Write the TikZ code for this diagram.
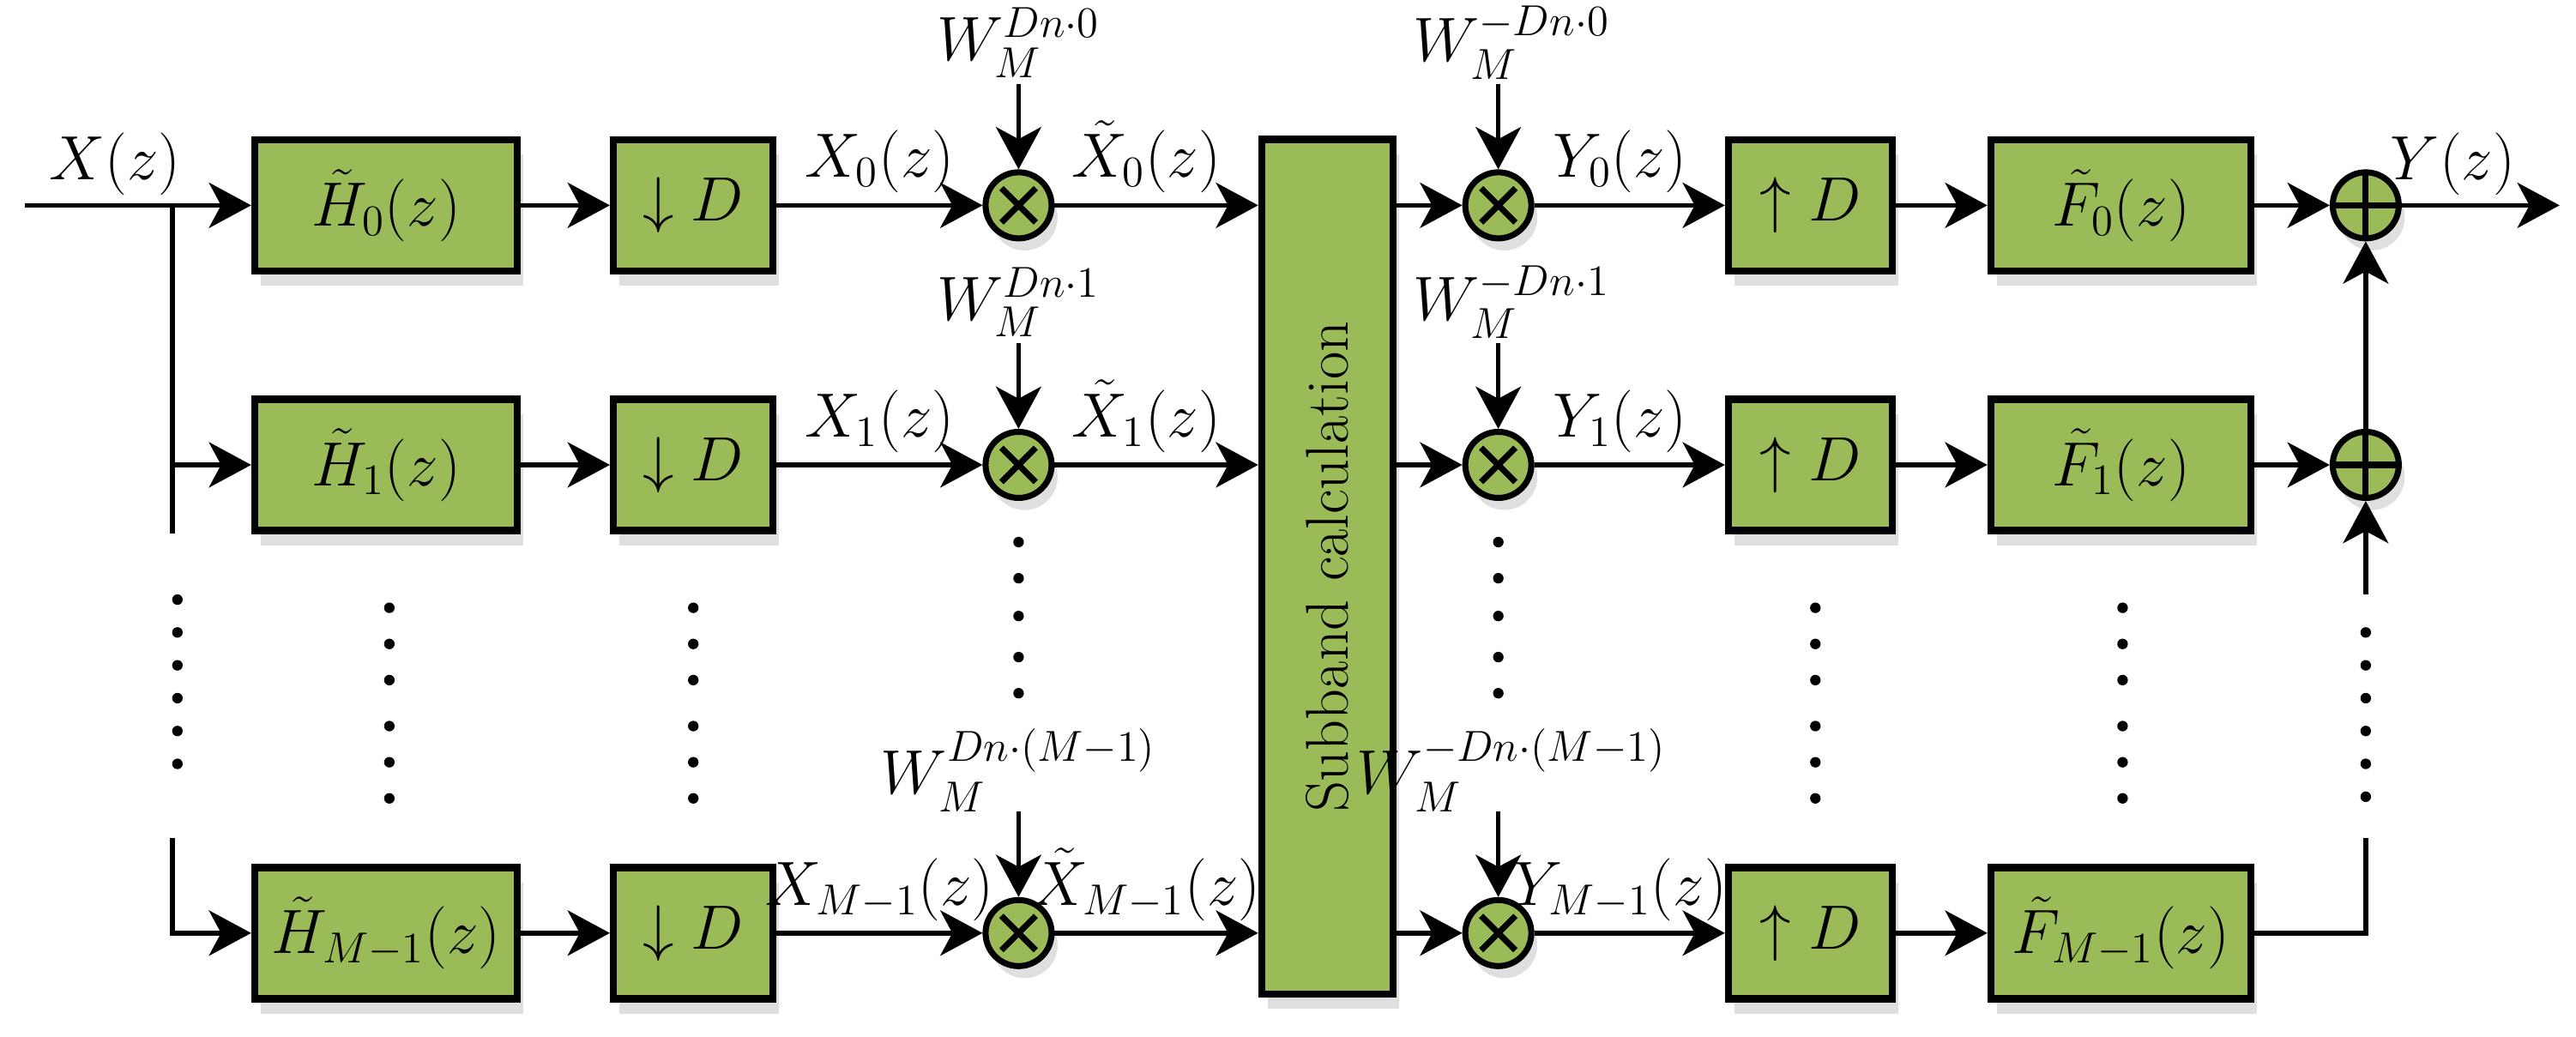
\documentclass[tikz,border=0pt]{standalone}
\usepackage{amsmath}
\usepackage{tikz}
\usetikzlibrary{arrows.meta}
\usetikzlibrary{positioning}
\usetikzlibrary{shadows}
\definecolor{bgreen}{RGB}{155,187,89}
\tikzset{->/.style = {-{Stealth[length=14pt,width=15pt,inset=4pt]}}}
\tikzset{sig/.style = {line width=1.6pt}}
\tikzset{blk/.style = {draw, line width=2.4pt, fill=bgreen, minimum height=1.53cm, inner sep=1pt,
                       drop shadow={shadow xshift=2pt, shadow yshift=-5pt, opacity=0.25}}}
\tikzset{op/.style = {draw, line width=2pt, circle, fill=bgreen, minimum size=0.77cm, inner sep=0,
                      drop shadow={shadow xshift=2pt, shadow yshift=-4pt, opacity=0.25}}}
\tikzset{mul/.style = {op, path picture={\draw[line width=2pt]
                       ([shift={(-0.2cm,-0.2cm)}]path picture bounding box.center) -- ([shift={(0.2cm,0.2cm)}]path picture bounding box.center)
                       ([shift={(-0.2cm,0.2cm)}]path picture bounding box.center) -- ([shift={(0.2cm,-0.2cm)}]path picture bounding box.center);}}}
\tikzset{add/.style = {op, path picture={\draw[line width=2pt]
                       ([shift={(-0.4cm,0cm)}]path picture bounding box.center) -- ([shift={(0.4cm,0cm)}]path picture bounding box.center)
                       ([shift={(0cm,0.4cm)}]path picture bounding box.center) -- ([shift={(0cm,-0.4cm)}]path picture bounding box.center);}}}
\tikzset{dot/.style = {fill, circle, inner sep=0, minimum size=3.5pt}}
\begin{document}
\begin{tikzpicture}[x=0.01915cm, y=-0.01915cm, font=\fontsize{20}{24}\selectfont]
  \useasboundingbox (0, 0) rectangle (1568, 631);

  \node [blk, minimum width=1.53cm, minimum height=9.96cm] (sub) at (808, 345)
        {\rotatebox{90}{Subband calculation}};

  \foreach \r/\y/\s/\e in {0/125/0/0, 1/283/1/1, M/568/{M-1}/(M-1)} {
    \node [blk, minimum width=3.06cm] (h\r) at (235, \y) {$\tilde{H}_{\s}(z)$};
    \node [blk, minimum width=1.86cm] (d\r) at (422, \y) {$\downarrow D$};
    \node [mul] (m\r) at (620, \y) {};
    \node [mul] (n\r) at (912, \y) {};
    \node [blk, minimum width=1.91cm] (u\r) at (1102, \y) {$\uparrow D$};
    \node [blk, minimum width=3.03cm] (f\r) at (1291, \y) {$\tilde{F}_{\s}(z)$};
    \node (wa\r) at (620, \y-99) {$W_M^{Dn\cdot \e}$};
    \node (wb\r) at (920, \y-99) {$W_M^{-Dn\cdot \e}$};
    \coordinate (ta\r) at (620, \y-74);
    \coordinate (tb\r) at (912, \y-74);
    \draw [sig, ->] (h\r) -- (d\r);
    \draw [sig, ->] (d\r) -- (m\r) node [pos=0.5, above] {$X_{\s}(z)$};
    \draw [sig, ->] (m\r) -- (m\r -| sub.west) node [pos=0.45, above] {$\tilde{X}_{\s}(z)$};
    \draw [sig, ->] (sub.east |- n\r) -- (n\r);
    \draw [sig, ->] (n\r) -- (u\r) node [pos=0.45, above] {$Y_{\s}(z)$};
    \draw [sig, ->] (u\r) -- (f\r);
    \draw [sig, ->] (ta\r) -- (m\r);
    \draw [sig, ->] (tb\r) -- (n\r);
  }

  % input side
  \coordinate (in) at (15, 125);
  \coordinate (br) at (105, 125);
  \node (xl) at (70, 100) {$X(z)$};
  \draw [sig, ->] (in) -- (h0);
  \draw [sig] (br) -- (105, 325);
  \draw [sig, ->] (105, 283) -- (h1);
  \draw [sig, ->] (105, 510) |- (hM);

  % output side
  \node [add] (s0) at (1440, 125) {};
  \node [add] (s1) at (1440, 283) {};
  \coordinate (out) at (1558, 125);
  \node (yl) at (1493, 100) {$Y(z)$};
  \draw [sig, ->] (f0) -- (s0);
  \draw [sig, ->] (f1) -- (s1);
  \draw [sig, ->] (s1) -- (s0);
  \draw [sig, ->] (s0) -- (out);
  \draw [sig] (fM) -| (1440, 510);
  \draw [sig, ->] (1440, 362) -- (s1);

  % dots
  \foreach \y in {365, 385, 405, 425, 445, 465} \node [dot] at (108, \y) {};
  \foreach \y in {385, 405, 425, 445, 465, 485} \node [dot] at (1440, \y) {};
  \foreach \x in {237, 422, 1105, 1292}
    \foreach \y in {370, 392, 414, 442, 464, 486} \node [dot] at (\x, \y) {};
  \foreach \x in {620, 912}
    \foreach \y in {330, 352, 375, 400, 422} \node [dot] at (\x, \y) {};
\end{tikzpicture}
\end{document}
